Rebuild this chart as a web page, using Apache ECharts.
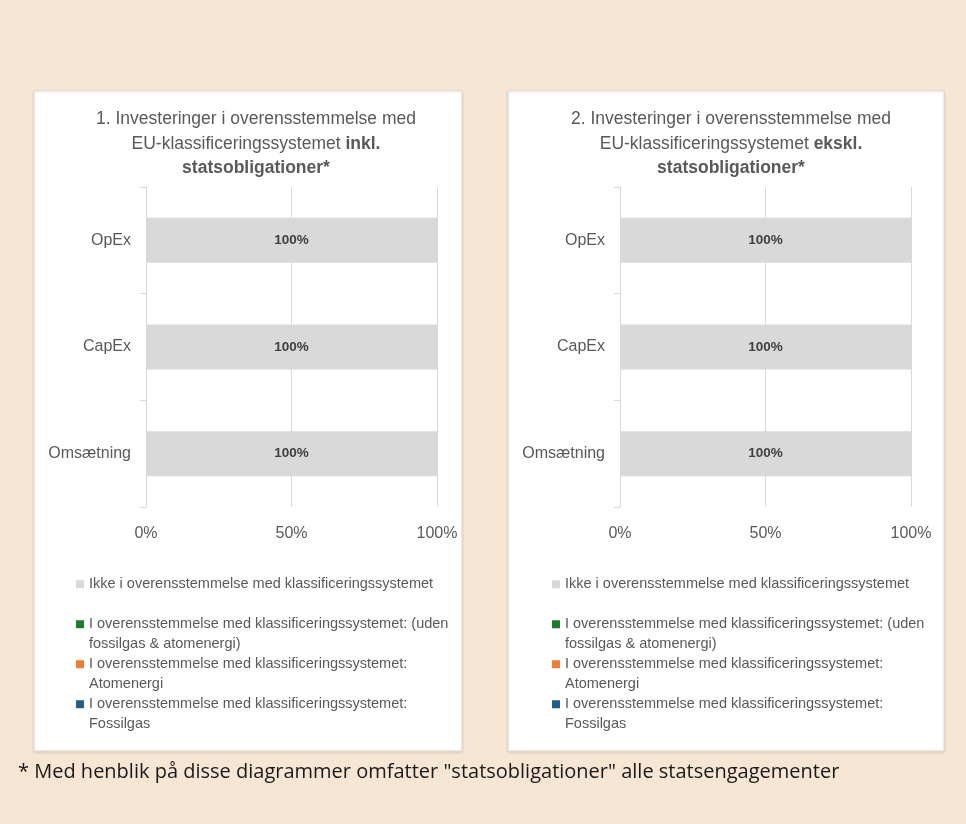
<!DOCTYPE html>
<html>
<head>
<meta charset="utf-8">
<script src="https://cdn.jsdelivr.net/npm/echarts@6/dist/echarts.min.js"></script>
<style>
html,body{margin:0;padding:0;background:#F6E6D3;}
#c{width:966px;height:824px;}
</style>
</head>
<body>
<div id="c"></div>
<script>
// ---- data ----
var categories = ['Omsætning', 'CapEx', 'OpEx'];
var seriesNames = [
  'Ikke i overensstemmelse med klassificeringssystemet',
  'I overensstemmelse med klassificeringssystemet: (uden fossilgas & atomenergi)',
  'I overensstemmelse med klassificeringssystemet: Atomenergi',
  'I overensstemmelse med klassificeringssystemet: Fossilgas'
];
var legendLines = [
  ['Ikke i overensstemmelse med klassificeringssystemet', ' '],
  ['I overensstemmelse med klassificeringssystemet: (uden', 'fossilgas & atomenergi)'],
  ['I overensstemmelse med klassificeringssystemet:', 'Atomenergi'],
  ['I overensstemmelse med klassificeringssystemet:', 'Fossilgas']
];
var seriesColors = ['#D9D9D9', '#1E7B2E', '#ED7D31', '#1F5F87'];
// chart 1 (inkl. statsobligationer)
var chart1Ikke = [100, 100, 100];
var chart1Uden = [0, 0, 0];
var chart1Atom = [0, 0, 0];
var chart1Fossil = [0, 0, 0];
// chart 2 (ekskl. statsobligationer)
var chart2Ikke = [100, 100, 100];
var chart2Uden = [0, 0, 0];
var chart2Atom = [0, 0, 0];
var chart2Fossil = [0, 0, 0];
var xTicks = [0, 50, 100];
var titles = [
  '1. Investeringer i overensstemmelse med\nEU-klassificeringssystemet {b|inkl.}\n{b|statsobligationer*}',
  '2. Investeringer i overensstemmelse med\nEU-klassificeringssystemet {b|ekskl.}\n{b|statsobligationer*}'
];
var footnote = '* Med henblik på disse diagrammer omfatter "statsobligationer" alle statsengagementer';

// ---- layout ----
var font = 'Liberation Sans';
var panels = [{x: 34, y: 91, w: 428, h: 660}, {x: 508, y: 91, w: 436, h: 660}];
var grids = [{left: 146, top: 187, width: 291, height: 320}, {left: 620, top: 187, width: 291, height: 320}];

var chart = echarts.init(document.getElementById('c'), null, {renderer: 'canvas'});

var series = [];
[[chart1Ikke, chart1Uden, chart1Atom, chart1Fossil], [chart2Ikke, chart2Uden, chart2Atom, chart2Fossil]].forEach(function (vals, gi) {
  [3, 2, 1, 0].forEach(function (si) {
    series.push({
      name: seriesNames[si],
      type: 'bar',
      stack: 's' + gi,
      xAxisIndex: gi,
      yAxisIndex: gi,
      barWidth: 45,
      data: vals[si],
      itemStyle: {color: seriesColors[si]},
      label: {
        show: si === 0,
        position: 'inside',
        formatter: '{c}%',
        color: '#404040',
        fontFamily: font,
        fontSize: 13.5,
        fontWeight: 'bold'
      },
      emphasis: {disabled: true}
    });
  });
});

function makeLegend(left) {
  return {
    orient: 'vertical',
    left: left,
    top: 555,
    padding: 0,
    itemGap: -18.5,
    itemWidth: 8,
    itemHeight: 8,
    icon: 'rect',
    selectedMode: false,
    data: seriesNames.map(function (n, i) {
      return {name: n, itemStyle: {color: seriesColors[i]}};
    }),
    formatter: function (name) {
      var l = legendLines[seriesNames.indexOf(name)];
      return ' \n' + l[0] + '\n' + l[1];
    },
    textStyle: {
      color: '#595959',
      fontFamily: font,
      fontSize: 14.5,
      lineHeight: 19.5
    }
  };
}

var option = {
  backgroundColor: '#F6E6D3',
  animation: false,
  graphic: panels.map(function (p) {
    return {
      type: 'rect',
      z: -10,
      shape: {x: p.x, y: p.y, width: p.w, height: p.h},
      style: {fill: '#ffffff', stroke: '#E3DCD6', lineWidth: 1, shadowBlur: 3, shadowColor: 'rgba(0,0,0,0.12)', shadowOffsetY: 1}
    };
  }),
  title: [
    {
      text: titles[0], left: 251, top: 102, textAlign: 'center',
      textStyle: {color: '#595959', fontFamily: font, fontSize: 17.5, fontWeight: 'normal', lineHeight: 24.5,
        rich: {b: {fontWeight: 'bold', color: '#595959', fontFamily: font, fontSize: 17.5, lineHeight: 24.5}}}
    },
    {
      text: titles[1], left: 726, top: 102, textAlign: 'center',
      textStyle: {color: '#595959', fontFamily: font, fontSize: 17.5, fontWeight: 'normal', lineHeight: 24.5,
        rich: {b: {fontWeight: 'bold', color: '#595959', fontFamily: font, fontSize: 17.5, lineHeight: 24.5}}}
    },
    {
      text: footnote, left: 13, top: 757,
      textStyle: {color: '#1a1a1a', fontFamily: 'Open Sans', fontSize: 20, fontWeight: 'normal'}
    }
  ],
  legend: [makeLegend(76), makeLegend(552)],
  grid: grids.map(function (g) { return {left: g.left, top: g.top, width: g.width, height: g.height, containLabel: false}; }),
  xAxis: grids.map(function (g, i) {
    return {
      type: 'value', gridIndex: i, min: xTicks[0], max: xTicks[xTicks.length - 1], interval: xTicks[1] - xTicks[0],
      axisLine: {show: false}, axisTick: {show: false},
      splitLine: {show: true, lineStyle: {color: '#D9D9D9', width: 1}},
      axisLabel: {formatter: '{value}%', color: '#595959', fontFamily: font, fontSize: 16, margin: 19}
    };
  }),
  yAxis: grids.map(function (g, i) {
    return {
      type: 'category', gridIndex: i, data: categories, boundaryGap: true,
      axisLine: {show: true, lineStyle: {color: '#D9D9D9', width: 1}},
      axisTick: {show: true, length: 6, lineStyle: {color: '#D9D9D9'}},
      axisLabel: {color: '#595959', fontFamily: font, fontSize: 16, margin: 15}
    };
  }),
  series: series
};
chart.setOption(option);
</script>
</body>
</html>
